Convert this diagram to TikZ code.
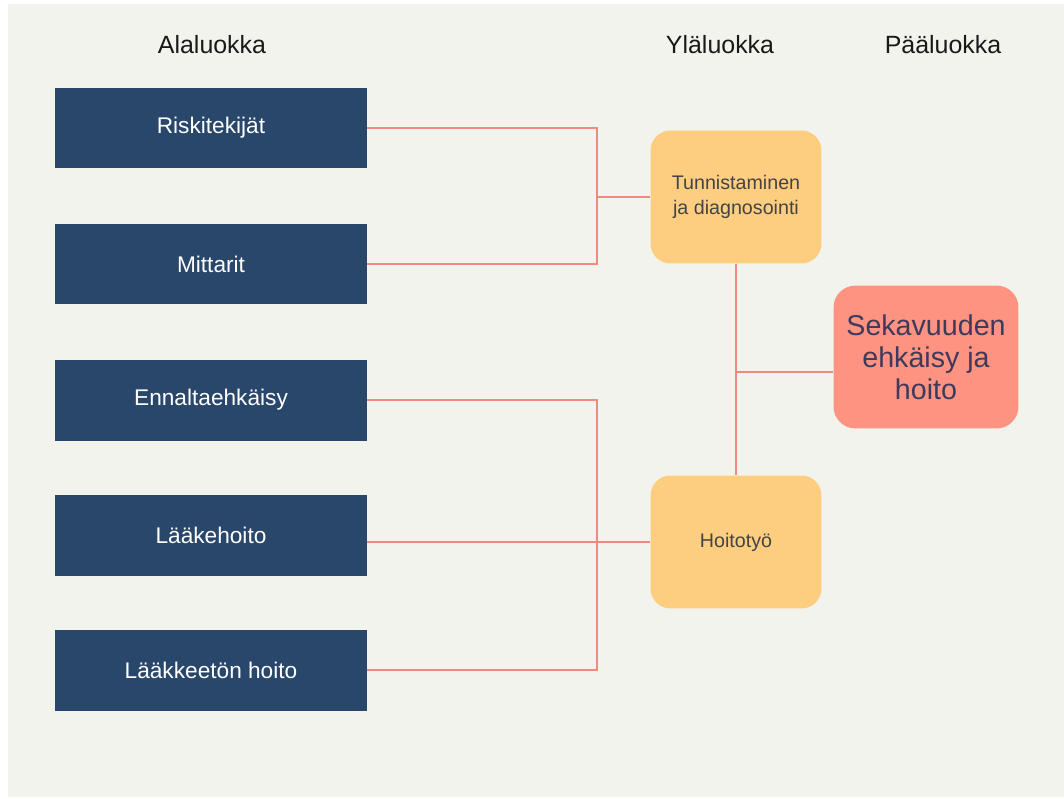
\documentclass[tikz,border=0pt]{standalone}
\usepackage{fontspec}
\setmainfont{Liberation Sans}
\usetikzlibrary{positioning, calc}

\definecolor{bgcol}{HTML}{F3F3EE}
\definecolor{navy}{HTML}{29466B}
\definecolor{sand}{HTML}{FDCD80}
\definecolor{coral}{HTML}{FF9382}
\definecolor{linkcol}{HTML}{F08A7E}
\definecolor{greytext}{HTML}{444444}
\definecolor{plumtext}{HTML}{3E3A5C}

\begin{document}
\begin{tikzpicture}[
        x=0.02cm, y=-0.02cm,
        header/.style={font=\fontsize{14.2}{17}\selectfont, text=black!90},
        subbox/.style={rectangle, fill=navy, minimum width=6.24cm, minimum height=1.62cm, text=white, font=\fontsize{12.9}{15}\selectfont},
        topbox/.style={rectangle, fill=sand, rounded corners=0.4cm, minimum width=3.42cm, minimum height=2.66cm, align=center, text=greytext, font=\fontsize{11.2}{14.2}\selectfont},
        mainbox/.style={rectangle, fill=coral, rounded corners=0.44cm, minimum width=3.7cm, minimum height=2.86cm, align=center, text=plumtext, font=\fontsize{16.3}{18.1}\selectfont},
        link/.style={draw=linkcol, line width=1.1pt}
    ]
        \useasboundingbox (0,0) rectangle (1064,798);
        \fill[bgcol] (8,4) rectangle (1064,797);

        % column headers
        \node[header] (hsub) at (212,45) {Alaluokka};
        \node[header] (htop) at (720,45) {Yläluokka};
        \node[header] (hmain) at (943,45) {Pääluokka};

        % subcategories
        \node[subbox] (riski) at (211,128) {Riskitekijät};
        \node[subbox] (mittarit) at (211,264) {Mittarit};
        \node[subbox] (ennalta) at (211,400) {Ennaltaehkäisy};
        \node[subbox] (laake) at (211,535) {Lääkehoito};
        \node[subbox] (laakkeeton) at (211,670) {Lääkkeetön hoito};

        % upper categories
        \node[topbox] (tunn) at (736,197) {Tunnistaminen\\ja diagnosointi};
        \node[topbox] (hoito) at (736,542) {Hoitotyö};

        % main category
        \node[mainbox] (paa) at (926,357) {Sekavuuden\\ehkäisy ja\\hoito};

        \coordinate (j1) at (597,197);
        \coordinate (j2) at (597,542);
        \coordinate (j3) at (736,372);

        \draw[link] (riski.east) -| (j1);
        \draw[link] (mittarit.east) -| (j1);
        \draw[link] (j1) -- (tunn.west);

        \draw[link] (ennalta.east) -| (j2);
        \draw[link] (laakkeeton.east) -| (j2);
        \draw[link] (hoito.west -| laake.east) -- (hoito.west);

        \draw[link] (tunn.south) -- (hoito.north);
        \draw[link] (j3) -- (j3 -| paa.west);
    \end{tikzpicture}
\end{document}
